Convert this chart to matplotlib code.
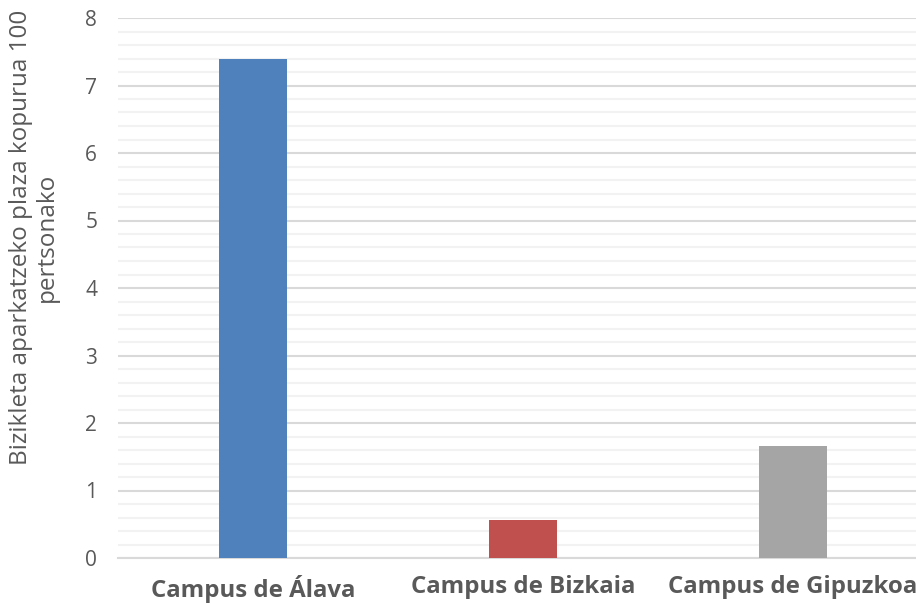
import matplotlib
matplotlib.use("Agg")
import matplotlib.pyplot as plt
import numpy as np
from matplotlib.ticker import MultipleLocator

categories = ["Campus de Álava", "Campus de Bizkaia", "Campus de Gipuzkoa"]
values = [7.39, 0.57, 1.66]
colors = ["#4f81bd", "#c0504d", "#a5a5a5"]
ylabel = "Bizikleta aparkatzeko plaza kopurua 100\npertsonako"

plt.rcParams['font.family'] = ['Open Sans', 'DejaVu Sans']

W, H = 916, 604
fig = plt.figure(figsize=(W/100, H/100), dpi=100)
left, right, bottom, top = 118, 928, 558, 18
ax = fig.add_axes([left/W, (H-bottom)/H, (right-left)/W, (bottom-top)/H])

x = np.arange(len(categories))
ax.bar(x, values, width=68/270, color=colors, zorder=3)
ax.set_xlim(-0.5, 2.5)
ax.set_ylim(0, 8)
ax.yaxis.set_major_locator(MultipleLocator(1))
ax.yaxis.set_minor_locator(MultipleLocator(0.2))
ax.grid(which='minor', axis='y', color='#f2f2f2', linewidth=1.5, zorder=0)
ax.grid(which='major', axis='y', color='#d9d9d9', linewidth=1.5, zorder=1)
for s in ['top', 'right', 'left']:
    ax.spines[s].set_visible(False)
ax.spines['bottom'].set_color('#d9d9d9')
ax.spines['bottom'].set_linewidth(1.5)
ax.set_xticks(x)
ax.set_xticklabels(categories, fontsize=17.3, fontweight='bold', color='#595959')
ax.tick_params(axis='x', length=0, pad=12)
ax.tick_params(axis='y', which='both', length=0, labelsize=15, labelcolor='#595959', pad=15)
ax.set_ylabel(ylabel, fontsize=17.5, color='#595959', linespacing=1.1)
ax.yaxis.set_label_coords(-0.073, 0.593)

fig.savefig("out.png", dpi=100)
